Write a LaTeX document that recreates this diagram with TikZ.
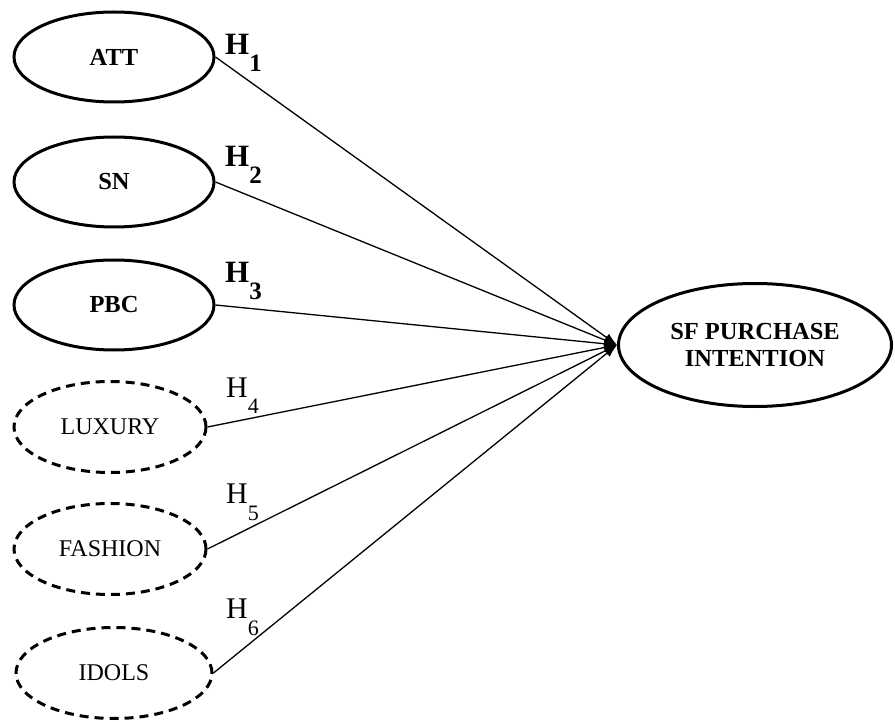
\documentclass[tikz,border=0pt]{standalone}
\usepackage{fontspec}
\setmainfont{Liberation Serif}
\usetikzlibrary{shapes.geometric,arrows.meta}
\newcommand{\hlabB}[1]{H\raisebox{-17pt}{\fontsize{25}{25}\selectfont #1}}
\newcommand{\hlabR}[1]{H\raisebox{-17pt}{\fontsize{22}{22}\selectfont #1}}
\begin{document}
\begin{tikzpicture}[x=1pt,y=-1pt,
  solidell/.style={ellipse,draw,line width=3pt,minimum width=200pt,minimum height=90pt,inner sep=0pt,font=\fontsize{24.5}{24.5}\selectfont\bfseries},
  dashell/.style={ellipse,draw,line width=3pt,dash pattern=on 9pt off 6pt,minimum width=192pt,minimum height=91pt,inner sep=0pt,font=\fontsize{24}{24}\selectfont},
  bighyp/.style={anchor=base west,inner sep=0pt,font=\fontsize{31}{31}\selectfont\bfseries},
  reghyp/.style={anchor=base west,inner sep=0pt,font=\fontsize{30}{30}\selectfont},
  conn/.style={line width=1.3pt,-{Latex[length=13pt,width=9pt]}}]
\useasboundingbox (0,0) rectangle (895,722);
\node[solidell] (att) at (114,57) {ATT};
\node[solidell] (sn) at (114,182) {SN};
\node[solidell] (pbc) at (114,305) {PBC};
\node[dashell] (lux) at (110,427) {LUXURY};
\node[dashell] (fas) at (110,549) {FASHION};
\node[dashell,minimum width=196pt] (ido) at (114,673) {IDOLS};
\node[ellipse,draw,line width=3pt,minimum width=273pt,minimum height=123pt,inner sep=0pt,align=center,font=\fontsize{24.5}{27}\selectfont\bfseries] (sf) at (755,345) {SF PURCHASE\\INTENTION};
\foreach \n in {att,sn,pbc,lux,fas,ido}{
  \draw[conn] (\n.east) -- (sf.west);
}
\node[bighyp] (h1) at (225,55) {\hlabB{1}};
\node[bighyp] (h2) at (225,167) {\hlabB{2}};
\node[bighyp] (h3) at (225,283) {\hlabB{3}};
\node[reghyp] (h4) at (226,397) {\hlabR{4}};
\node[reghyp] (h5) at (226,503) {\hlabR{5}};
\node[reghyp] (h6) at (226,618) {\hlabR{6}};
\end{tikzpicture}
\end{document}
